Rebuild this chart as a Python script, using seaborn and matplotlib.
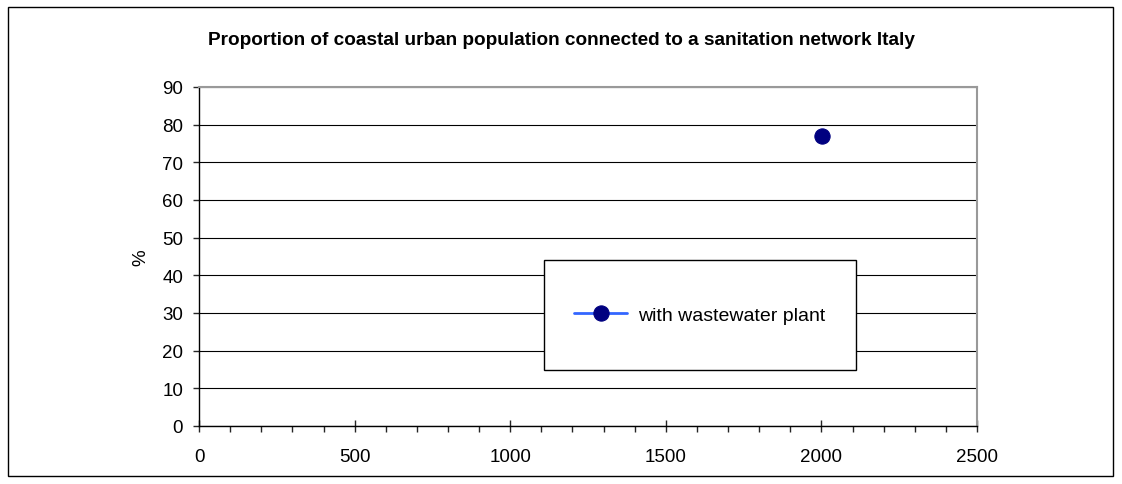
import matplotlib
matplotlib.use("Agg")
import matplotlib.pyplot as plt
from matplotlib.patches import Rectangle
from matplotlib.ticker import MultipleLocator
import seaborn as sns
import pandas as pd

# Data
years = [2001]
values = [77]
series_name = "with wastewater plant"

df = pd.DataFrame({"year": years, "value": values, "series": series_name})

sns.set_style("white")
plt.rcParams["font.family"] = ["Liberation Sans", "DejaVu Sans"]

fig = plt.figure(figsize=(11.22, 4.85), dpi=100)
ax = fig.add_axes([0.1774, 0.1196, 0.8708 - 0.1774, 0.8186 - 0.1196])

sns.lineplot(data=df, x="year", y="value", hue="series", palette=["#3366ff"],
             marker="o", markersize=11, markerfacecolor="#000080",
             markeredgecolor="#000080", linewidth=2, ax=ax)

ax.set_xlim(0, 2500)
ax.set_ylim(0, 90)
ax.xaxis.set_major_locator(MultipleLocator(500))
ax.xaxis.set_minor_locator(MultipleLocator(100))
ax.yaxis.set_major_locator(MultipleLocator(10))
ax.grid(axis="y", color="black", linewidth=0.8)
ax.grid(axis="x", visible=False)
ax.set_axisbelow(True)

for side in ["top", "right"]:
    ax.spines[side].set_color("#999999")
    ax.spines[side].set_linewidth(1.5)
for side in ["left", "bottom"]:
    ax.spines[side].set_color("black")
    ax.spines[side].set_linewidth(1)

ax.tick_params(axis="x", which="major", direction="inout", length=8, width=1,
               labelsize=13.5, pad=12, bottom=True, labelcolor="black")
ax.tick_params(axis="x", which="minor", direction="out", length=4, width=1, bottom=True)
ax.tick_params(axis="y", which="major", direction="out", length=4.5, width=1,
               labelsize=13.5, pad=7, left=True, labelcolor="black")

ax.set_xlabel("")
ax.set_ylabel("%", fontsize=13.5, labelpad=9, color="black")

# legend box drawn as its own rectangle, legend content centred inside
ax.add_patch(Rectangle((0.443, 0.165), 0.401, 0.325, transform=ax.transAxes,
                       facecolor="white", edgecolor="black", linewidth=1, zorder=4))
leg = ax.legend(loc="center", bbox_to_anchor=(0.644, 0.327), frameon=False,
                fontsize=14, handlelength=2.7, handletextpad=0.6)
leg.set_zorder(5)
leg.set_title(None)
for t in leg.get_texts():
    t.set_color("black")

fig.text(0.5, 0.917, "Proportion of coastal urban population connected to a sanitation network Italy",
         ha="center", va="center", fontsize=13.7, fontweight="bold", color="black")

fig.patches.append(Rectangle((0.0071, 0.0165), 0.985, 0.967, transform=fig.transFigure,
                             fill=False, edgecolor="black", linewidth=1))

fig.savefig("out.png", dpi=100)
